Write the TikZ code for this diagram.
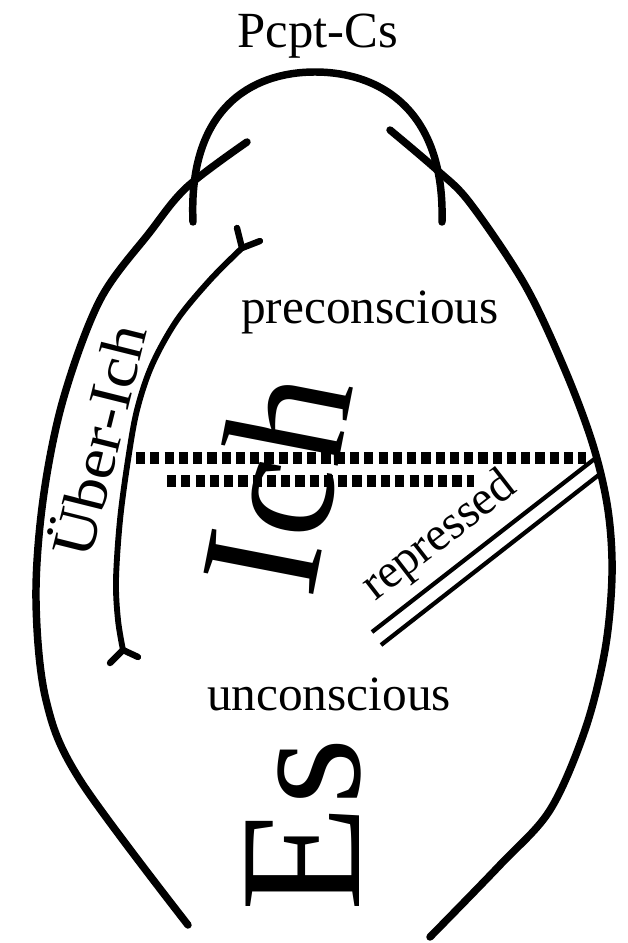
\documentclass[tikz,border=0pt]{standalone}
\usepackage{fontspec}
\setmainfont{Liberation Serif}
\begin{document}
\begin{tikzpicture}[x=0.75pt,y=-0.75pt,
  thickline/.style={line width=5.6pt,line cap=round,line join=round},
  innerline/.style={line width=4.4pt,line cap=round,line join=round},
  forkline/.style={line width=4.8pt,line cap=round},
  dotline/.style={line width=8.5pt,dash pattern=on 6.9pt off 3.8pt},
  dblline/.style={line width=3.2pt,line cap=butt},
  lbl/.style={inner sep=0pt,anchor=base},
  bigtxt/.style={inner sep=0pt},
]
\useasboundingbox (0,0) rectangle (628,943);

% Pcpt-Cs cap arc
\coordinate (capL) at (193,222);
\coordinate (capT) at (315,72);
\coordinate (capR) at (442,222);
\draw[thickline] (capL) .. controls (188,110) and (250,72) .. (capT)
  .. controls (380,72) and (445,110) .. (capR);

% outer left curve
\draw[thickline] plot[smooth,tension=0.55] coordinates {(247,142) (187,187) (150,232) (100,300) (63,400) (43,500) (36,600) (46,700) (80,780) (188,925)};
% outer right curve
\draw[thickline] plot[smooth,tension=0.55] coordinates {(390,130) (437,170) (470,203) (525,285) (565,370) (593,445) (608,510) (612,575) (605,650) (585,730) (550,810) (500,865) (430,937)};

% Ueber-Ich inner arc
\coordinate (ftop) at (242,248);
\coordinate (fbot) at (123,650);
\draw[innerline] plot[smooth,tension=0.55] coordinates {(ftop) (210,280) (177,320) (152,365) (137,410) (128,460) (120,520) (116,580) (118,620) (fbot)};
\draw[forkline] (ftop) -- (237,228);
\draw[forkline] (ftop) -- (260,241);
\draw[forkline] (fbot) -- (110,663);
\draw[forkline] (fbot) -- (138,657);

% dotted lines
\coordinate (d1a) at (136,458);
\coordinate (d1b) at (586,458);
\coordinate (d2a) at (167,481);
\coordinate (d2b) at (474,481);
\draw[dotline] (d1a) -- (d1b);
\draw[dotline] (d2a) -- (d2b);

% repressed double line
\draw[dblline] (372,632) -- (597,457);
\draw[dblline] (381,645) -- (600,474);

% labels
\node[lbl,font=\fontsize{38pt}{38pt}\selectfont] (pcpt) at (318,47) {Pcpt-Cs};
\node[lbl,font=\fontsize{37pt}{37pt}\selectfont] (pre) at (370,323) {preconscious};
\node[lbl,font=\fontsize{37pt}{37pt}\selectfont] (unc) at (329,710) {unconscious};
\node[bigtxt,rotate=37.7,font=\fontsize{36pt}{36pt}\selectfont] (rep) at (440,537) {repressed};
\node[bigtxt,rotate=76,font=\fontsize{45pt}{45pt}\selectfont] (ueber) at (96,440) {\scalebox{1.1}[1]{Über-Ich}};
\node[bigtxt,rotate=79,font=\fontsize{128pt}{128pt}\selectfont] (ich) at (276,482) {Ich};
\node[bigtxt,rotate=90,font=\fontsize{130pt}{130pt}\selectfont] (es) at (304,825) {Es};
\end{tikzpicture}
\end{document}
